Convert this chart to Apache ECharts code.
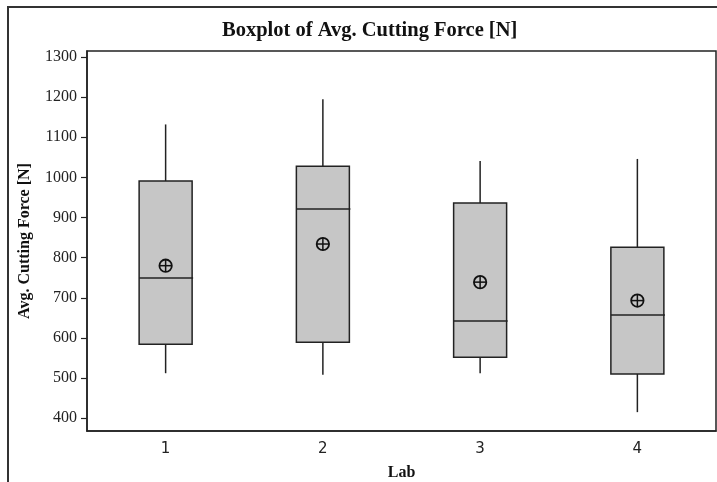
<!DOCTYPE html>
<html>
<head>
<meta charset="utf-8">
<script src="https://cdn.jsdelivr.net/npm/echarts@6/dist/echarts.min.js"></script>
<style>
html,body{margin:0;padding:0;background:#fff;}
#chart{width:717px;height:482px;}
</style>
</head>
<body>
<div id="chart"></div>
<script>
const labs = ['1', '2', '3', '4'];
const whiskerLow = [512, 508, 512, 415];
const q1 = [584, 589, 552, 510];
const median = [749, 921, 642, 657];
const q3 = [991, 1028, 936, 826];
const whiskerHigh = [1132, 1195, 1041, 1046];
const means = [780, 834, 739, 693];
const yTicks = [400, 500, 600, 700, 800, 900, 1000, 1100, 1200, 1300];

const dark = '#222';
const chart = echarts.init(document.getElementById('chart'), null, {renderer: 'canvas'});

const boxData = labs.map((l, i) => [i, whiskerLow[i], q1[i], median[i], q3[i], whiskerHigh[i], means[i]]);

chart.setOption({
  backgroundColor: '#fff',
  animation: false,
  title: {
    text: 'Boxplot of Avg. Cutting Force [N]',
    left: 217, top: 15,
    textStyle: {fontFamily: 'Liberation Serif', fontWeight: 'bold', fontSize: 20.5, color: '#111'}
  },
  graphic: [{
    type: 'rect', silent: true, x: 0, y: 0,
    shape: {x: 8, y: 7, width: 760, height: 520},
    style: {fill: 'none', stroke: '#333', lineWidth: 2}
  }],
  grid: {left: 87, right: 1, top: 51, bottom: 51, containLabel: false, outerBoundsMode: 'none',
    show: true, borderColor: dark, borderWidth: 1.5, backgroundColor: 'transparent'},
  xAxis: {
    type: 'category', data: labs,
    name: 'Lab', nameLocation: 'middle', nameGap: 34,
    nameTextStyle: {fontFamily: 'Liberation Serif', fontWeight: 'bold', fontSize: 16, color: '#111'},
    axisLine: {lineStyle: {color: dark, width: 1.5}},
    axisTick: {alignWithLabel: true, length: 6, lineStyle: {color: dark, width: 1.2}},
    axisLabel: {fontFamily: 'DejaVu Sans', fontSize: 15, color: '#222', margin: 11},
    splitLine: {show: false}
  },
  yAxis: {
    type: 'value', min: 368, max: 1315,
    name: 'Avg. Cutting Force [N]', nameLocation: 'middle', nameGap: 54, nameRotate: 90,
    nameTextStyle: {fontFamily: 'Liberation Serif', fontWeight: 'bold', fontSize: 16, color: '#111'},
    axisLine: {show: true, lineStyle: {color: dark, width: 1.5}},
    axisTick: {show: true, length: 6, customValues: yTicks, lineStyle: {color: dark, width: 1.2}},
    axisLabel: {fontFamily: 'Liberation Serif', fontSize: 16, color: '#222', margin: 10, customValues: yTicks,
      formatter: (v) => String(v)},
    splitLine: {show: false}
  },
  series: [{
    type: 'custom',
    clip: false,
    data: boxData,
    encode: {x: 0, y: [1, 2, 3, 4, 5, 6]},
    renderItem: function (params, api) {
      const xi = api.value(0);
      const pt = (k) => api.coord([xi, api.value(k)]);
      const bw = api.size([1, 0])[0] * 0.337;
      const pLo = pt(1), pQ1 = pt(2), pMed = pt(3), pQ3 = pt(4), pHi = pt(5), pMean = pt(6);
      const cx = pLo[0];
      const ls = {stroke: dark, lineWidth: 1.5};
      const r = 6.2;
      return {
        type: 'group',
        children: [
          {type: 'line', shape: {x1: cx, y1: pLo[1], x2: cx, y2: pQ1[1]}, style: ls},
          {type: 'line', shape: {x1: cx, y1: pQ3[1], x2: cx, y2: pHi[1]}, style: ls},
          {type: 'rect', shape: {x: cx - bw / 2, y: pQ3[1], width: bw, height: pQ1[1] - pQ3[1]},
            style: {fill: '#c6c6c6', stroke: dark, lineWidth: 1.5}},
          {type: 'line', shape: {x1: cx - bw / 2, y1: pMed[1], x2: cx + bw / 2 + 1, y2: pMed[1]}, style: ls},
          {type: 'circle', shape: {cx: cx, cy: pMean[1], r: r}, style: {fill: 'none', stroke: '#111', lineWidth: 1.8}},
          {type: 'line', shape: {x1: cx - r, y1: pMean[1], x2: cx + r, y2: pMean[1]}, style: {stroke: '#111', lineWidth: 1.5}},
          {type: 'line', shape: {x1: cx, y1: pMean[1] - r, x2: cx, y2: pMean[1] + r}, style: {stroke: '#111', lineWidth: 1.5}}
        ]
      };
    }
  }]
});
</script>
</body>
</html>
